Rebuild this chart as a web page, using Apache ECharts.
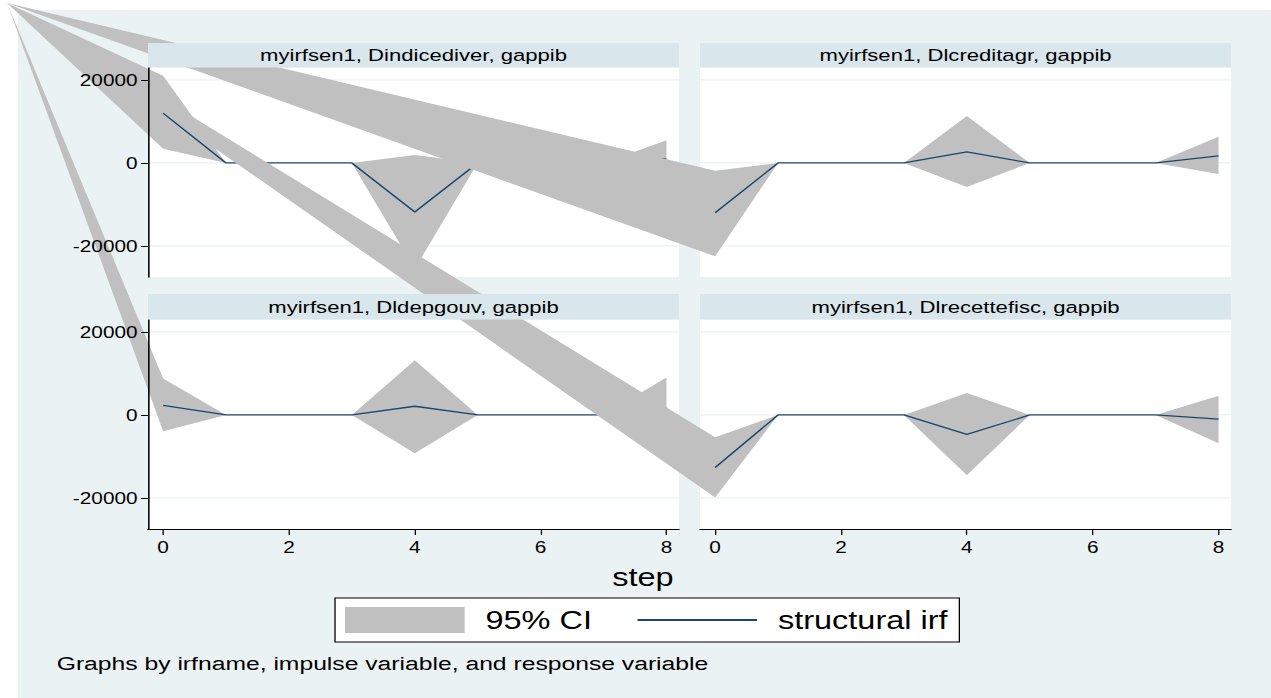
<!DOCTYPE html>
<html>
<head>
<meta charset="utf-8">
<script src="https://cdn.jsdelivr.net/npm/echarts@6/dist/echarts.min.js"></script>
<style>
  html, body { margin: 0; padding: 0; background: #fff; overflow: hidden; }
  /* the reference picture is stretched sideways, so the chart is drawn narrow and scaled */
  #main { width: 980px; height: 698px; transform: scaleX(1.3); transform-origin: 0 0; }
</style>
</head>
<body>
<div id="main"></div>
<script>
const steps = [0, 1, 2, 3, 4, 5, 6, 7, 8];
const xTicks = [0, 2, 4, 6, 8];
const yTicks = [-20000, 0, 20000];

const panelTitles = [
  'myirfsen1, Dindicediver, gappib',
  'myirfsen1, Dlcreditagr, gappib',
  'myirfsen1, Dldepgouv, gappib',
  'myirfsen1, Dlrecettefisc, gappib'
];

// structural irf and 95% CI bounds, one array per panel
const irfIndicediver = [12000, 0, 0, 0, -11800, 0, 0, 0, 1000];
const loIndicediver = [3400, 0, 0, 0, -25500, 0, 0, 0, -3500];
const hiIndicediver = [21000, 0, 0, 0, 1900, 0, 0, 0, 5500];

const irfCreditagr = [-12000, 0, 0, 0, 2650, 0, 0, 0, 1700];
const loCreditagr = [-22500, 0, 0, 0, -5800, 0, 0, 0, -2650];
const hiCreditagr = [-1900, 0, 0, 0, 11300, 0, 0, 0, 6300];

const irfDepgouv = [2300, 0, 0, 0, 2100, 0, 0, 0, 1700];
const loDepgouv = [-3900, 0, 0, 0, -9200, 0, 0, 0, -5400];
const hiDepgouv = [8800, 0, 0, 0, 13200, 0, 0, 0, 9000];

const irfRecettefisc = [-12650, 0, 0, 0, -4700, 0, 0, 0, -1000];
const loRecettefisc = [-19900, 0, 0, 0, -14500, 0, 0, 0, -6800];
const hiRecettefisc = [-5400, 0, 0, 0, 5300, 0, 0, 0, 4600];

const panels = [
  { irf: irfIndicediver, lo: loIndicediver, hi: hiIndicediver },
  { irf: irfCreditagr, lo: loCreditagr, hi: hiCreditagr },
  { irf: irfDepgouv, lo: loDepgouv, hi: hiDepgouv },
  { irf: irfRecettefisc, lo: loRecettefisc, hi: hiRecettefisc }
];

const FONT = '"Liberation Sans", Arial, sans-serif';
const BG = '#eaf2f3';
const STRIP = '#d9e6eb';
const CI_GRAY = '#c0c0c0';
const NAVY = '#1a476f';
const XMIN = -0.24, XMAX = 8.2;
const YMIN = -27500, YMAX = 23000;
// the CI polygons in the reference all start from the picture's corner
const APEX = [5.4, 3];

const COLS = [113.85, 538.5];
const ROWS = [{ strip: 43, top: 67.5 }, { strip: 294, top: 319.5 }];
const PW = 408.5, PH = 209.6;

const chart = echarts.init(document.getElementById('main'), null, { renderer: 'svg' });

const grid = [], xAxis = [], yAxis = [], series = [], graphics = [];

graphics.push({
  type: 'rect', z: -10,
  shape: { x: 13.85, y: 10, width: 980, height: 700 },
  style: { fill: BG }
});

panels.forEach((p, k) => {
  const col = k % 2, row = Math.floor(k / 2);
  grid.push({
    left: COLS[col], top: ROWS[row].top, width: PW, height: PH,
    show: true, backgroundColor: '#fff', borderWidth: 0
  });
  xAxis.push({
    gridIndex: k, type: 'value', min: XMIN, max: XMAX, show: row === 1, z: 50,
    axisLine: { show: true, onZero: false, lineStyle: { color: '#000', width: 1.2 } },
    axisTick: { show: true, customValues: xTicks, length: 6, lineStyle: { color: '#000', width: 1 } },
    axisLabel: { customValues: xTicks, fontSize: 16, fontFamily: FONT, color: '#000', margin: 10 },
    splitLine: { show: false }
  });
  yAxis.push({
    gridIndex: k, type: 'value', min: YMIN, max: YMAX, show: col === 0, z: 50,
    axisLine: { show: true, onZero: false, lineStyle: { color: '#000', width: 1.2 } },
    axisTick: { show: true, customValues: yTicks, length: 5.4, lineStyle: { color: '#000', width: 1 } },
    axisLabel: { customValues: yTicks, fontSize: 16, fontFamily: FONT, color: '#000', margin: 8,
      formatter: v => String(v) },
    splitLine: { show: false }
  });

  // light grid lines
  series.push({
    type: 'custom', xAxisIndex: k, yAxisIndex: k, z: 1, silent: true,
    data: yTicks.map(v => [0, v]),
    renderItem: (params, api) => {
      const a = api.coord([XMIN, api.value(1)]);
      const b = api.coord([XMAX, api.value(1)]);
      return { type: 'line', shape: { x1: a[0], y1: a[1], x2: b[0], y2: b[1] },
        style: { stroke: BG, lineWidth: 1.2 } };
    }
  });

  series.push({
    type: 'custom', name: '95% CI', xAxisIndex: k, yAxisIndex: k, z: 10 + 2 * k, silent: true,
    itemStyle: { color: CI_GRAY },
    data: steps.map((s, i) => [s, p.lo[i], p.hi[i]]),
    encode: { x: 0, y: [1, 2] },
    renderItem: (params, api) => {
      if (params.dataIndex !== 0) return null;
      const pts = [APEX];
      steps.forEach((s, i) => pts.push(api.coord([s, p.hi[i]])));
      for (let i = steps.length - 1; i >= 0; i--) pts.push(api.coord([steps[i], p.lo[i]]));
      return { type: 'polygon', shape: { points: pts }, style: { fill: CI_GRAY } };
    }
  });

  series.push({
    type: 'line', name: 'structural irf', xAxisIndex: k, yAxisIndex: k, z: 11 + 2 * k, silent: true,
    symbol: 'none',
    lineStyle: { color: NAVY, width: 1.3 },
    itemStyle: { color: NAVY },
    data: steps.map((s, i) => [s, p.irf[i]])
  });

  const sy = ROWS[row].strip, sh = ROWS[row].top - sy;
  graphics.push({
    type: 'rect', z: 100,
    shape: { x: COLS[col], y: sy, width: PW, height: sh },
    style: { fill: STRIP }
  });
  graphics.push({
    type: 'text', z: 101,
    x: COLS[col] + PW / 2, y: sy + sh / 2,
    style: { text: panelTitles[k], font: '17px ' + FONT, fill: '#000', align: 'center', verticalAlign: 'middle' }
  });
});

graphics.push({
  type: 'text', z: 101, x: 494.6, y: 577,
  style: { text: 'step', font: '25px ' + FONT, fill: '#000', align: 'center', verticalAlign: 'middle' }
});
graphics.push({
  type: 'text', z: 101, x: 43.6, y: 664,
  style: { text: 'Graphs by irfname, impulse variable, and response variable', font: '19px ' + FONT, fill: '#000', align: 'left', verticalAlign: 'middle' }
});

const option = {
  animation: false,
  backgroundColor: '#fff',
  grid: grid,
  xAxis: xAxis,
  yAxis: yAxis,
  legend: {
    left: 257.7, top: 598,
    orient: 'horizontal',
    selectedMode: false,
    padding: [9, 9, 9, 7.7],
    itemWidth: 92, itemHeight: 26, itemGap: 34,
    borderColor: '#000', borderWidth: 1, borderRadius: 0,
    backgroundColor: '#fff',
    textStyle: { fontSize: 25, fontFamily: FONT, color: '#000', lineHeight: 26, padding: [0, 0, 0, 11] },
    data: [
      { name: '95% CI', icon: 'rect', itemStyle: { color: CI_GRAY } },
      { name: 'structural irf', itemStyle: { opacity: 0 }, lineStyle: { width: 2, color: NAVY } }
    ]
  },
  graphic: { elements: graphics },
  series: series
};

chart.setOption(option);
</script>
</body>
</html>
